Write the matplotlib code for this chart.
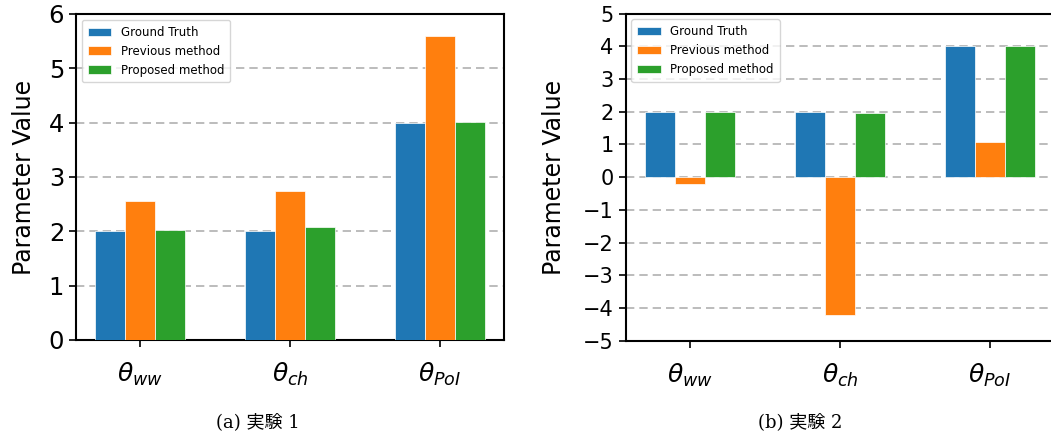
import matplotlib
matplotlib.use("Agg")
import matplotlib.pyplot as plt
import numpy as np

# %%
params = [r"$\theta_{ww}$", r"$\theta_{ch}$", r"$\theta_{PoI}$"]
methods = ["Ground Truth", "Previous method", "Proposed method"]
colors = ["#1f77b4", "#ff7f0e", "#2ca02c"]

# experiment 1
exp1_truth = [2.0, 2.0, 4.0]
exp1_prev = [2.55, 2.75, 5.6]
exp1_prop = [2.03, 2.08, 4.02]

# experiment 2
exp2_truth = [2.0, 2.0, 4.0]
exp2_prev = [-0.2, -4.2, 1.08]
exp2_prop = [2.0, 1.95, 4.0]

captions = ["(a) 実験 1", "(b) 実験 2"]

# %%
fig = plt.figure(figsize=(10.51, 4.37), dpi=100)
ax1 = fig.add_axes([0.0723, 0.222, 0.4072, 0.746])
ax2 = fig.add_axes([0.5952, 0.220, 0.4082, 0.749])

x = np.arange(len(params))
w = 0.2


def draw(ax, series, ylim, yticks, tick_size, pad):
    for i, (vals, lab) in enumerate(zip(series, methods)):
        ax.bar(x + (i - 1) * w, vals, w, color=colors[i], label=lab,
               edgecolor="white", linewidth=0.5, zorder=3)
    ax.set_ylim(*ylim)
    ax.set_yticks(yticks)
    ax.set_xticks(x)
    ax.set_xticklabels(params, fontsize=18)
    ax.tick_params(axis="y", labelsize=tick_size, width=1.2, length=5)
    ax.tick_params(axis="x", width=1.2, length=5, pad=10)
    ax.grid(axis="y", linestyle=(0, (5, 3)), color="#b0b0b0", linewidth=1.2, zorder=0)
    ax.set_ylabel("Parameter Value", fontsize=17, labelpad=pad)
    for s in ax.spines.values():
        s.set_linewidth(1.5)
    ax.legend(loc="upper left", fontsize=8.5, framealpha=0.8, borderpad=0.5)


draw(ax1, [exp1_truth, exp1_prev, exp1_prop], (0, 6), range(0, 7), 17.5, 9)
draw(ax2, [exp2_truth, exp2_prev, exp2_prop], (-5, 5), range(-5, 6), 15, 12)

fig.text(0.2455, 0.034, captions[0], ha="center", va="center", fontsize=13,
         family=["DejaVu Serif", "Noto Sans CJK JP"])
fig.text(0.761, 0.034, captions[1], ha="center", va="center", fontsize=13,
         family=["DejaVu Serif", "Noto Sans CJK JP"])

plt.savefig("out.png", dpi=100)
